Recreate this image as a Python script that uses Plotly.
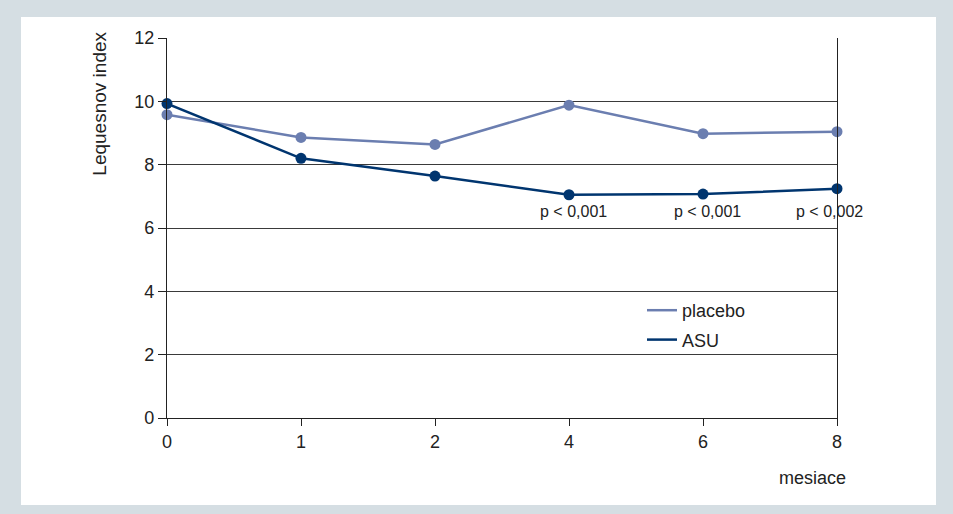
import plotly.graph_objects as go

months = ["0", "1", "2", "4", "6", "8"]
placebo = [9.58, 8.86, 8.64, 9.88, 8.98, 9.04]
asu = [9.93, 8.20, 7.64, 7.05, 7.07, 7.24]
p_labels = ["p < 0,001", "p < 0,001", "p < 0,002"]
p_months = ["4", "6", "8"]
y_ticks = [0, 2, 4, 6, 8, 10, 12]

C_PLACEBO = "#6b7eb0"
C_ASU = "#00356f"
BORDER = "#d5dee3"
FONT = "Liberation Sans, Arial, sans-serif"

fig = go.Figure()
fig.add_trace(go.Scatter(x=months, y=placebo, mode="lines+markers", name="placebo",
                         line=dict(color=C_PLACEBO, width=2.5),
                         marker=dict(color=C_PLACEBO, size=11),
                         cliponaxis=False, showlegend=False))
fig.add_trace(go.Scatter(x=months, y=asu, mode="lines+markers", name="ASU",
                         line=dict(color=C_ASU, width=2.5),
                         marker=dict(color=C_ASU, size=11),
                         cliponaxis=False, showlegend=False))
# legend entries (lines only)
fig.add_trace(go.Scatter(x=[None], y=[None], mode="lines", name="placebo",
                         line=dict(color=C_PLACEBO, width=2.5), legendgroup="a"))
fig.add_trace(go.Scatter(x=[None], y=[None], mode="lines", name="ASU",
                         line=dict(color=C_ASU, width=2.5), legendgroup="b"))

label_y = min(asu)
for i, (m, t) in enumerate(zip(p_months, p_labels)):
    idx = months.index(m)
    fig.add_annotation(x=idx, y=label_y, text=t, showarrow=False,
                       yanchor="top", yshift=-6, xshift=-8 if i == 2 else 4,
                       font=dict(size=16, color="#222", family=FONT))

fig.add_annotation(xref="paper", yref="paper", x=-0.1007, y=0.826,
                   text="Lequesnov index", textangle=-90, showarrow=False,
                   xanchor="center", yanchor="middle",
                   font=dict(size=19, color="#222", family=FONT))
fig.add_annotation(xref="paper", yref="paper", x=0.9627, y=-0.158,
                   text="mesiace", showarrow=False,
                   xanchor="center", yanchor="middle",
                   font=dict(size=18, color="#222", family=FONT))

fig.add_shape(type="rect", xref="paper", yref="paper", layer="below",
              x0=(21 - 167) / 670, x1=(936 - 167) / 670,
              y0=(418 - 505) / 380, y1=(418 - 17) / 380,
              fillcolor="white", line=dict(width=0))

fig.update_xaxes(type="category", range=[0, 5], showline=True, linecolor="#222",
                 linewidth=1.2, ticks="outside", ticklen=7, tickcolor="#222",
                 showgrid=False, zeroline=False,
                 tickfont=dict(size=18, color="#222", family=FONT))
fig.update_yaxes(range=[0, 12], tickvals=y_ticks, showline=True, mirror=True,
                 linecolor="#222", linewidth=1.2, ticks="outside", ticklen=8,
                 tickcolor="#222", showgrid=True, gridcolor="#3a3a3a", gridwidth=1,
                 zeroline=False,
                 tickfont=dict(size=18, color="#222", family=FONT))

fig.update_layout(
    width=953, height=514,
    margin=dict(l=167, r=116, t=38, b=96),
    paper_bgcolor=BORDER, plot_bgcolor="rgba(0,0,0,0)",
    font=dict(family=FONT, color="#222"),
    legend=dict(x=(642 - 167) / 670, y=(418 - 292) / 380, xanchor="left", yanchor="top",
                bgcolor="rgba(0,0,0,0)", font=dict(size=18, color="#222", family=FONT),
                tracegroupgap=3, traceorder="grouped"),
)

fig.write_html("out.html", config={"displayModeBar": False},
               post_script="document.body.style.margin='0';document.body.style.overflow='hidden';")
